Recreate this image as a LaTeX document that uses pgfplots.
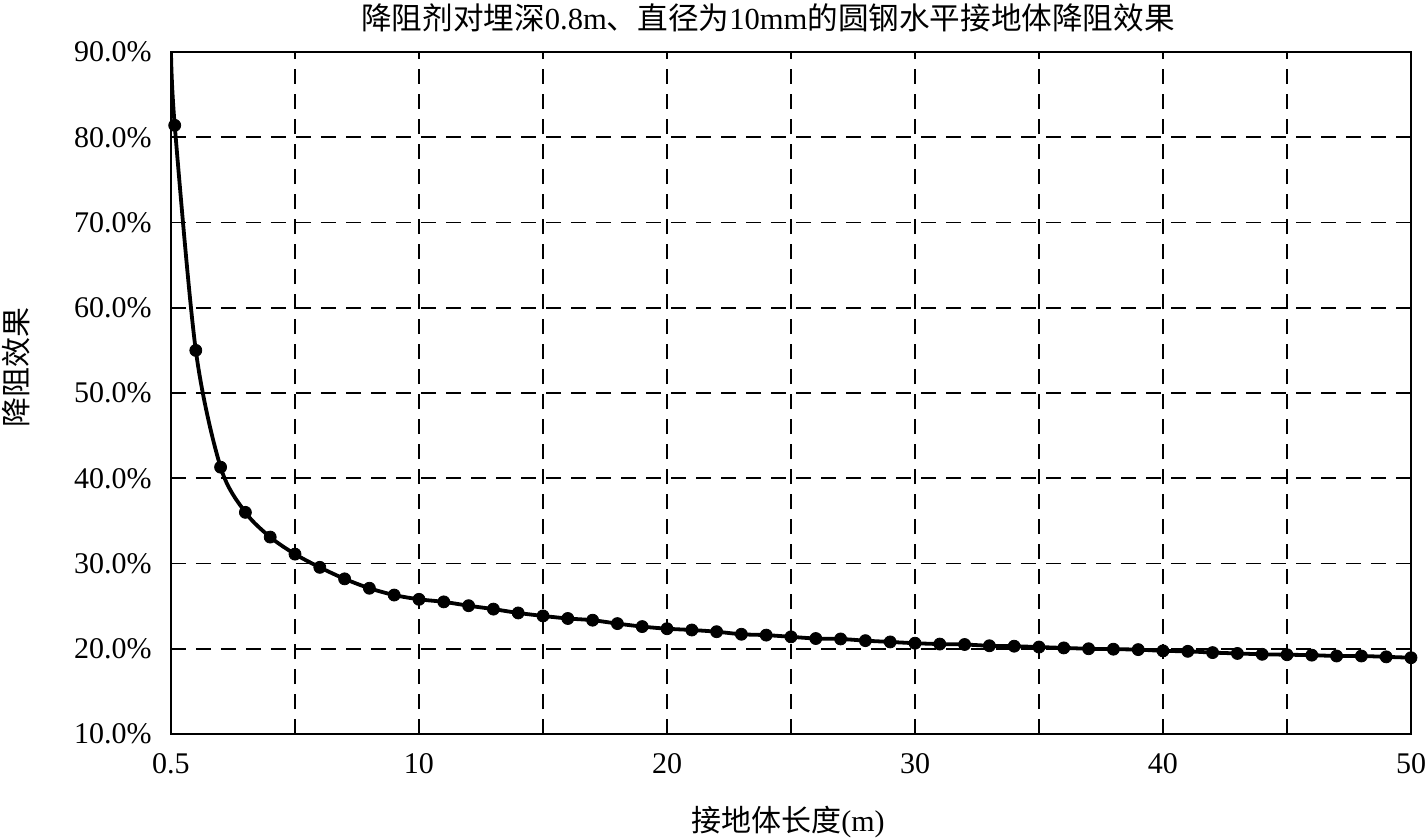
\documentclass[border=0pt]{standalone}
\usepackage{pgfplots}
\pgfplotsset{compat=1.18}
\usepackage{pgfplotstable}
\usepackage{fontspec}
\setmainfont{Liberation Serif}
\newfontfamily\cjk{Noto Sans CJK SC}
\newcommand\zh[1]{{\cjk #1}}

\pgfplotstableread{
x y
0 90
0.15 81.4
1 55.0
2 41.3
3 36.0
4 33.1
5 31.1
6 29.55
7 28.2
8 27.1
9 26.3
10 25.8
11 25.5
12 25.05
13 24.65
14 24.2
15 23.85
16 23.55
17 23.35
18 22.95
19 22.6
20 22.35
21 22.2
22 22.0
23 21.7
24 21.6
25 21.4
26 21.2
27 21.15
28 20.95
29 20.8
30 20.65
31 20.55
32 20.5
33 20.35
34 20.3
35 20.2
36 20.1
37 20.0
38 19.95
39 19.9
40 19.75
41 19.7
42 19.55
43 19.45
44 19.35
45 19.3
46 19.25
47 19.15
48 19.15
49 19.05
50 18.95
}\datatable

\begin{document}
\begin{tikzpicture}
\fontsize{15}{18}\selectfont
\begin{axis}[
  scale only axis, width=620pt, height=341pt,
  xmin=0, xmax=50, ymin=10, ymax=90,
  xtick={0,5,...,50}, xticklabels={0.5,,10,,20,,30,,40,,50},
  ytick={10,20,...,90},
  yticklabels={10.0\%,20.0\%,30.0\%,40.0\%,50.0\%,60.0\%,70.0\%,80.0\%,90.0\%},
  grid=major,
  major grid style={black, line width=0.8pt, dash pattern=on 7.5pt off 5pt},
  major tick length=0pt,
  axis line style={black, line width=1pt},
  tick label style={font=\fontsize{15}{18}\selectfont},
  yticklabel style={xshift=-4.5pt},
  xticklabel style={yshift=-4.5pt},
]
\addplot[black, line width=1.9pt, smooth, no marks] table[x=x,y=y]{\datatable};
\addplot[black, only marks, mark=*, mark size=3pt, skip coords between index={0}{1}] table[x=x,y=y]{\datatable};
\end{axis}
\node[font=\fontsize{15.3}{18}\selectfont] at (298.5pt,358pt) {\zh{降阻剂对埋深}0.8m\zh{、直径为}10mm\zh{的圆钢水平接地体降阻效果}};
\node[font=\fontsize{15}{18}\selectfont] at (308.5pt,-44pt) {\zh{接地体长度}(m)};
\node[font=\fontsize{15}{18}\selectfont, rotate=90] at (-77.5pt,183.1pt) {\zh{降阻效果}};
\pgfresetboundingbox
\useasboundingbox (-85.5pt,-51.5pt) rectangle (627pt,367pt);
\end{tikzpicture}
\end{document}
